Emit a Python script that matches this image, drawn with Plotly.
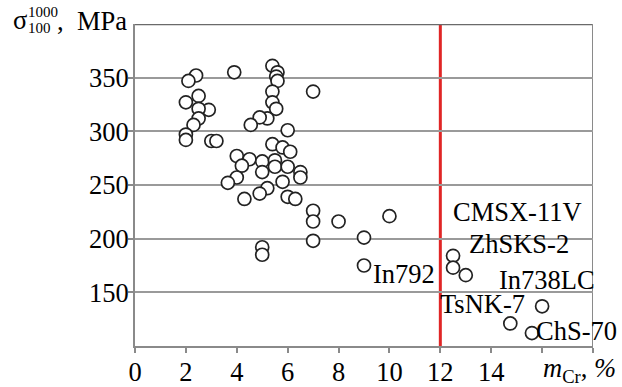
import plotly.graph_objects as go

# Data: Cr content (%) vs long-term strength sigma_100^1000 (MPa)
cr_pct = [2.4, 2.1, 3.9, 2.5, 2.0, 2.9, 2.5, 2.5, 2.3, 2.0, 2.0, 3.0, 3.2,
          5.4, 5.6, 5.55, 5.6, 7.0, 5.4, 5.4, 5.55, 5.2, 4.9, 4.55, 6.0,
          5.4, 5.8, 6.1,
          4.0, 4.5, 5.0, 5.5, 4.2, 5.0, 5.5, 6.0, 6.5, 6.5, 4.0, 3.65, 5.8, 5.2, 4.9, 4.3, 6.0, 6.3,
          7.0, 7.0, 8.0, 7.0, 5.0, 5.0, 9.0, 10.0, 9.0,
          12.5, 12.5, 13.0, 16.0, 14.75, 15.6]
strength = [352, 347, 355, 333, 327, 320, 321, 312, 306, 297, 292, 291, 291,
            361, 355, 351, 347, 337, 337, 327, 321, 312, 313, 306, 301,
            288, 285, 281,
            277, 274, 272, 273, 268, 262, 267, 267, 262, 257, 257, 252, 253, 247, 242, 237, 239, 237,
            226, 216, 216, 198, 192, 185, 201, 221, 175,
            184, 173, 166, 137, 121, 112]

alloy_names = ["CMSX-11V", "ZhSKS-2", "In738LC", "TsNK-7", "ChS-70", "In792"]
alloy_x = [15.05, 15.1, 16.2, 13.67, 17.35, 10.56]
alloy_y = [225, 195.5, 161.5, 139, 114, 167]

x_ticks = [0, 2, 4, 6, 8, 10, 12, 14]
x_unlabeled_ticks = [16, 18]
y_ticks = [150, 200, 250, 300, 350]
cr_limit = 12

FONT = "Liberation Serif, Times New Roman, serif"
FS = 26.5

fig = go.Figure()
fig.add_trace(go.Scatter(
    x=cr_pct, y=strength, mode="markers",
    marker=dict(size=13, color="white", line=dict(color="#222222", width=1.7)),
    showlegend=False, hoverinfo="skip", cliponaxis=False,
))

# red vertical limit line
fig.add_shape(type="line", xref="x", yref="y", x0=cr_limit, x1=cr_limit, y0=100, y1=400,
              line=dict(color="#e02626", width=3), layer="below")
# top and right border
fig.add_shape(type="line", xref="x", yref="y", x0=0, x1=18, y0=400, y1=400,
              line=dict(color="#6a6a6a", width=2.5), layer="below")
fig.add_shape(type="line", xref="x", yref="y", x0=18, x1=18, y0=100, y1=400,
              line=dict(color="#8a8a8a", width=2), layer="below")

for name, xx, yy in zip(alloy_names, alloy_x, alloy_y):
    fig.add_annotation(x=xx, y=yy, xref="x", yref="y", text=name, showarrow=False,
                       xanchor="center", yanchor="middle",
                       font=dict(family=FONT, size=FS, color="black"))

# y axis title: sigma with super/subscripts (pixel placement converted to paper coords)
L, T, W, H = 135, 24, 458, 322
def px(xp):
    return (xp - L) / W
def py(yp):
    return (T + H - yp) / H

fig.add_annotation(xref="paper", yref="paper", x=px(11), y=py(20), text="σ", showarrow=False,
                   xanchor="left", yanchor="middle", font=dict(family=FONT, size=FS, color="black"))
fig.add_annotation(xref="paper", yref="paper", x=px(26), y=py(12.5), text="1000", showarrow=False,
                   xanchor="left", yanchor="middle", font=dict(family=FONT, size=15, color="black"))
fig.add_annotation(xref="paper", yref="paper", x=px(26), y=py(28), text="100", showarrow=False,
                   xanchor="left", yanchor="middle", font=dict(family=FONT, size=15, color="black"))
fig.add_annotation(xref="paper", yref="paper", x=px(129), y=py(21), text=",  MPa", showarrow=False,
                   xanchor="right", yanchor="middle", font=dict(family=FONT, size=FS, color="black"))

# x axis title
fig.add_annotation(xref="x", yref="paper", x=17.45, y=py(370), text="<i>m</i><sub>Cr</sub>, <i>%</i>",
                   showarrow=False, xanchor="center", yanchor="middle",
                   font=dict(family=FONT, size=FS, color="black"))

fig.update_xaxes(range=[0, 18], tickvals=x_ticks, automargin=False,
                 showgrid=False, zeroline=False, showline=True, linecolor="#8a8a8a", linewidth=2,
                 ticks="outside", ticklen=5, tickwidth=1.5, tickcolor="#8a8a8a",
                 tickfont=dict(family=FONT, size=FS, color="black"),
                 minor=dict(tickvals=x_unlabeled_ticks, ticks="outside", ticklen=5, tickwidth=1.5,
                            tickcolor="#8a8a8a", showgrid=False))
fig.update_yaxes(range=[100, 400], tickvals=y_ticks, automargin=False,
                 showgrid=True, gridcolor="#9a9a9a", gridwidth=1.5, zeroline=False,
                 showline=True, linecolor="#8a8a8a", linewidth=2,
                 ticks="outside", ticklen=5, tickwidth=1.5, tickcolor="#8a8a8a",
                 tickfont=dict(family=FONT, size=FS, color="black"))
try:
    fig.update_xaxes(ticklabelstandoff=-4)
    fig.update_yaxes(ticklabelstandoff=-6)
except Exception:
    pass

fig.update_layout(width=622, height=387, margin=dict(l=135, r=29, t=24, b=41),
                  plot_bgcolor="white", paper_bgcolor="white",
                  font=dict(family=FONT, color="black", size=FS))

fig.write_html("out.html")
